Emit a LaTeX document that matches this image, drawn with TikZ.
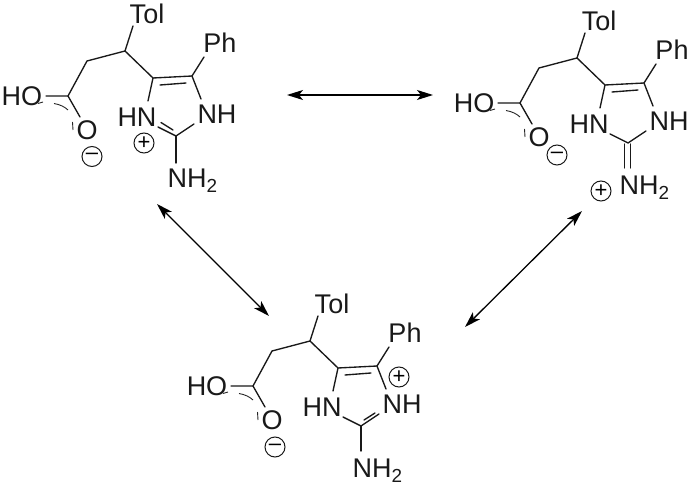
\documentclass[tikz,border=0pt]{standalone}
\usepackage{fontspec}
\setmainfont{Liberation Sans}
\usetikzlibrary{arrows.meta}
\tikzset{
  bond/.style={line width=1.35pt,line cap=round,black!90},
  partial/.style={line width=0.9pt,black!85},
  atom/.style={inner sep=0pt,font=\fontsize{27}{27}\selectfont,text=black!90},
  chg/.style={circle,draw=black!90,line width=1pt,minimum size=20pt,inner sep=0pt,font=\fontsize{22}{22}\selectfont},
  react/.style={line width=1.3pt,black,{Stealth[length=16pt,width=10pt,inset=4pt]}-{Stealth[length=16pt,width=10pt,inset=4pt]}}
}
\newcommand{\amino}[1]{\node[atom,anchor=west] (#1) at (167.5,181) {NH\textsubscript{2}};}
% shared skeleton: everything but the guanidine double bond and the charges
\newcommand{\skel}[1]{%
  \node[atom] (#1tol) at (147,13.5) {Tol};
  \node[atom] (#1ph) at (220,43) {Ph};
  \node[atom] (#1ho) at (22,96) {HO};
  \node[atom] (#1o) at (87,130) {O};
  \node[atom] (#1hn) at (137,117) {HN};
  \node[atom] (#1nh) at (217,114) {NH};
  \coordinate (#1ca) at (125,51);
  \coordinate (#1cb) at (87,61);
  \coordinate (#1cc) at (68,96);
  \coordinate (#1c4) at (153,78);
  \coordinate (#1c5) at (192,76);
  \coordinate (#1c2) at (176,136);
  \draw[bond] (#1ca) -- (133,26);
  \draw[bond] (#1cc) -- (#1cb) -- (#1ca) -- (#1c4) -- (#1c5) -- (204,57);
  \draw[bond] (46,96) -- (#1cc) -- (80,117);
  \draw[bond] (160,85) -- (186,83);
  \draw[bond] (#1c4) -- (148,101);
  \draw[bond] (#1c5) -- (201,99);
  \draw[bond] (158,127) -- (#1c2) -- (194,124);
  \draw[partial] (38,103.5) -- (43,102);
  \draw[partial] (54,103.5) .. controls (60,104.5) and (65,107) .. (68,110);
  \draw[partial] (72.5,122) -- (73,130);
}
\begin{document}
\begin{tikzpicture}[x=1pt,y=-1pt]
\useasboundingbox (0,0) rectangle (690,486);
\begin{scope}
  \skel{a}
  \draw[bond] (161,122.5) -- (173,130);
  \draw[bond] (ac2) -- (176,163);
  \amino{anh}
  \node[chg] (aplus) at (144,143) {+};
  \node[chg] (aminus) at (92,156.5) {–};
\end{scope}
\begin{scope}[shift={(452,7)}]
  \skel{b}
  \draw[bond] (172.5,137) -- (172.5,161);
  \draw[bond] (178.5,137) -- (178.5,161);
  \amino{bnh}
  \node[chg] (bplus) at (149,184) {+};
  \node[chg] (bminus) at (105,148) {–};
\end{scope}
\begin{scope}[shift={(185,290)}]
  \skel{c}
  \draw[bond] (179,130) -- (190,123);
  \draw[bond] (cc2) -- (176,161);
  \amino{cnh}
  \node[chg] (cplus) at (214,87) {+};
  \node[chg] (cminus) at (90,157) {–};
\end{scope}
\coordinate (e1) at (287,95);
\coordinate (e2) at (433,95);
\coordinate (e3) at (157,204);
\coordinate (e4) at (269,316);
\coordinate (e5) at (582,211);
\coordinate (e6) at (465,327);
\draw[react] (e1) -- (e2);
\draw[react] (e3) -- (e4);
\draw[react] (e5) -- (e6);
\end{tikzpicture}
\end{document}
